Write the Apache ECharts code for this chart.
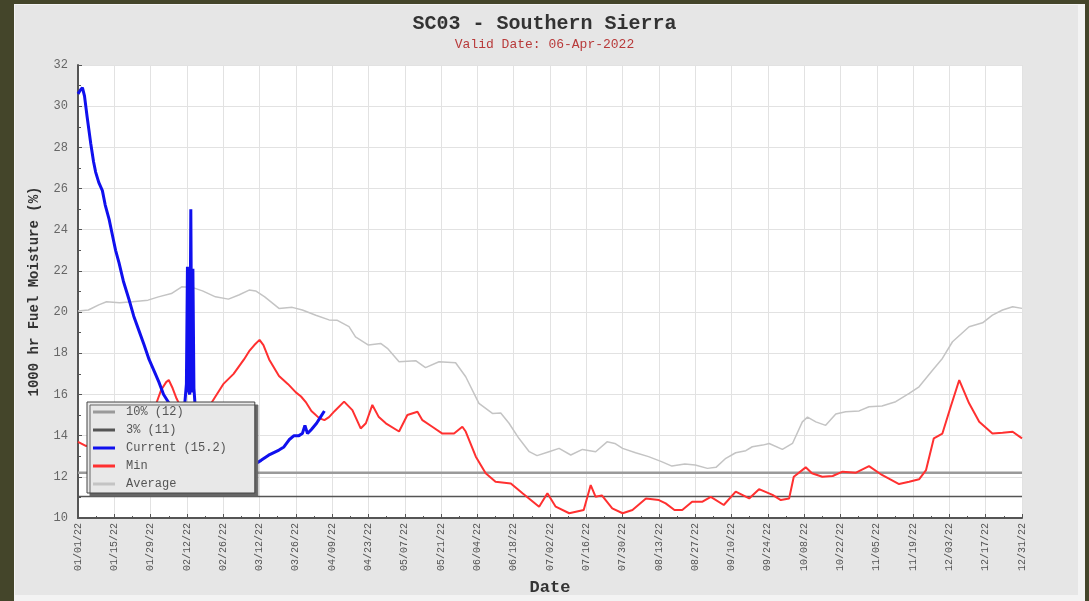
<!DOCTYPE html>
<html>
<head>
<meta charset="utf-8">
<script src="https://cdn.jsdelivr.net/npm/echarts@6/dist/echarts.min.js"></script>
<style>
  html, body { margin:0; padding:0; width:1089px; height:601px; background:#44452a; overflow:hidden; }
  #outer { position:absolute; left:14px; top:4px; width:1071px; height:597px; background:#f3f3f3; }
  #panel { position:absolute; left:15px; top:5px; width:1063px; height:590px; background:#e6e6e6; }
  #chart { position:absolute; left:0; top:0; width:1089px; height:601px; }
</style>
</head>
<body>
<div id="outer"></div>
<div id="panel"></div>
<div id="chart"></div>
<script>
// Tick labels every 14 days (day index 0 = 01/01/22)
const tickLabels = ['01/01/22','01/15/22','01/29/22','02/12/22','02/26/22','03/12/22','03/26/22','04/09/22','04/23/22','05/07/22','05/21/22','06/04/22','06/18/22','07/02/22','07/16/22','07/30/22','08/13/22','08/27/22','09/10/22','09/24/22','10/08/22','10/22/22','11/05/22','11/19/22','12/03/22','12/17/22','12/31/22'];

// Threshold values
const pct10Value = 12.2;
const pct3Value = 11.05;
const thresholdDays = [0, 364];

// Current (day, value)
const currentData = [[0,30.6],[1,30.8],[1.7,30.9],[2.5,30.5],[3.5,29.5],[4.9,28.2],[6,27.3],[6.8,26.8],[8,26.3],[9.4,25.9],[10.5,25.2],[12,24.5],[13.5,23.6],[14.5,23.0],[15.8,22.4],[17.5,21.5],[19.7,20.6],[21.5,19.8],[23.5,19.1],[25.5,18.4],[27.4,17.7],[29.5,17.1],[31.2,16.6],[33,16.0],[35,15.6],[37,15.3],[39,15.2],[41,15.3],[41.8,16.5],[42.2,22.2],[42.6,16.2],[43.1,16.0],[43.5,25.0],[43.9,16.1],[44.3,22.1],[44.7,16.3],[45.2,15.4],[47,15.0],[50,14.5],[54,13.9],[58,13.4],[62,13.0],[66,12.6],[68,12.6],[70.6,12.8],[73.5,13.05],[77.5,13.3],[79.4,13.45],[81.4,13.8],[83.3,14.0],[85.2,14.0],[86.5,14.1],[87.5,14.5],[88.5,14.1],[90,14.3],[92,14.6],[93.5,14.9],[95,15.2]];

// Min (day, value)
const minData = [[0,13.7],[3,13.5],[8,13.6],[14,14.0],[20,14.5],[26,15.0],[30,15.5],[32,16.2],[34,16.6],[35,16.7],[36.5,16.3],[38,15.8],[40,15.3],[44,15.0],[48,15.2],[51,15.5],[53,15.9],[56,16.5],[60,17.0],[64,17.7],[66,18.1],[68,18.4],[70,18.65],[71.5,18.4],[73.7,17.7],[77.5,16.9],[81,16.5],[84,16.1],[86,15.9],[88,15.6],[90,15.2],[93,14.85],[95,14.75],[96.8,14.9],[99,15.2],[102.6,15.65],[105.8,15.24],[109,14.35],[111,14.6],[113.5,15.49],[116,14.9],[118.7,14.6],[123.8,14.2],[127,15.0],[130.9,15.16],[132.8,14.75],[136.6,14.43],[140.5,14.1],[145,14.1],[148.2,14.43],[149.5,14.2],[153.4,12.98],[157.2,12.17],[161,11.76],[166.9,11.68],[171.4,11.2],[177.8,10.55],[181,11.2],[184.2,10.55],[189.4,10.23],[195,10.39],[197.7,11.6],[199.6,11.03],[202,11.1],[206,10.47],[210,10.23],[213.8,10.39],[219,10.95],[224,10.87],[226.6,10.71],[230,10.39],[233,10.39],[236.8,10.79],[240.8,10.79],[244,11.03],[249,10.63],[253.6,11.28],[258.8,10.95],[262.6,11.4],[267.8,11.12],[271,10.87],[274.2,10.95],[276,12.0],[280.6,12.46],[283,12.17],[287,12.0],[291,12.04],[294.8,12.25],[300,12.2],[305,12.52],[310,12.09],[316.6,11.65],[320.5,11.76],[324.3,11.88],[327,12.33],[330,13.87],[333.3,14.1],[336.5,15.4],[339.8,16.7],[343.6,15.57],[347.5,14.67],[352.6,14.1],[356.5,14.14],[360.4,14.19],[364,13.87]];

// Average (day, value)
const averageData = [[0,20.05],[4,20.1],[8,20.35],[11,20.5],[16,20.45],[21,20.5],[27,20.58],[31,20.74],[36,20.9],[40,21.23],[44,21.2],[48,21.03],[53,20.74],[58,20.63],[62,20.83],[66,21.07],[68.5,21.03],[72,20.74],[77.5,20.18],[82.6,20.23],[86.5,20.1],[91.7,19.85],[96.8,19.62],[100,19.6],[104.5,19.29],[107,18.8],[112,18.4],[116.7,18.48],[119.3,18.24],[123.8,17.59],[130.2,17.64],[134,17.3],[139.2,17.59],[145.6,17.54],[149.5,16.86],[154.6,15.57],[159.8,15.08],[163,15.1],[166.2,14.6],[170,13.87],[174,13.22],[177,13.03],[181.6,13.22],[185.5,13.38],[190,13.06],[194.5,13.33],[199.6,13.22],[204,13.7],[207,13.62],[210,13.38],[215,13.17],[220,12.98],[225,12.74],[229,12.52],[234,12.62],[238,12.57],[242.7,12.41],[246,12.46],[249.8,12.9],[253.6,13.17],[257.5,13.27],[260,13.46],[264,13.54],[266.5,13.62],[271.6,13.33],[275.5,13.62],[279.3,14.67],[281.3,14.9],[284.5,14.67],[288.3,14.5],[292.2,15.05],[296,15.16],[301.2,15.2],[305,15.4],[310,15.44],[315.3,15.65],[320.5,16.05],[324.3,16.37],[329.5,17.18],[333.3,17.75],[337.2,18.56],[343.6,19.29],[348.8,19.48],[352.6,19.85],[356.5,20.1],[360.4,20.26],[364,20.18]];

const seriesNames = ['10% (12)', '3% (11)', 'Current (15.2)', 'Min', 'Average'];

const mono = 'Liberation Mono';
const chart = echarts.init(document.getElementById('chart'), null, {renderer:'canvas'});

function lineSeries(name, data, color, width, z) {
  return {
    name, type:'line', data, symbol:'none', z,
    lineStyle:{color, width}, itemStyle:{color},
    emphasis:{disabled:true}, animation:false
  };
}

chart.setOption({
  animation:false,
  backgroundColor:'transparent',
  title:{
    text:'SC03 - Southern Sierra',
    subtext:'Valid Date: 06-Apr-2022',
    left:'center', top:9, itemGap:4,
    textStyle:{fontFamily:mono, fontSize:20, fontWeight:'bold', color:'#333'},
    subtextStyle:{fontFamily:mono, fontSize:13, color:'#b83a3a'}
  },
  grid:{left:78, right:67, top:65, bottom:83, show:true, backgroundColor:'#ffffff', borderWidth:0},
  xAxis:{
    type:'value', min:0, max:364, interval:14,
    name:'Date', nameLocation:'middle', nameGap:56,
    nameTextStyle:{fontFamily:mono, fontWeight:'bold', fontSize:17, color:'#333'},
    axisLine:{lineStyle:{color:'#555', width:2}},
    axisTick:{inside:true, length:4, lineStyle:{color:'#555'}},
    minorTick:{show:true, splitNumber:2, length:2, lineStyle:{color:'#555'}},
    splitLine:{show:true, lineStyle:{color:'#e2e2e2', width:1}},
    axisLabel:{rotate:90, margin:5, fontFamily:mono, fontSize:10, color:'#555',
      formatter:(v)=> tickLabels[Math.round(v/14)] || ''}
  },
  yAxis:{
    type:'value', min:10, max:32, interval:2,
    name:'1000 hr Fuel Moisture (%)', nameLocation:'middle', nameGap:37,
    nameTextStyle:{fontFamily:mono, fontWeight:'bold', fontSize:14, color:'#333'},
    axisLine:{show:true, lineStyle:{color:'#555', width:2}},
    axisTick:{show:true, inside:true, length:4, lineStyle:{color:'#555'}},
    minorTick:{show:true, splitNumber:2, length:3, lineStyle:{color:'#555'}},
    splitLine:{show:true, lineStyle:{color:'#e2e2e2', width:1}},
    axisLabel:{margin:10, fontFamily:mono, fontSize:12, color:'#666'}
  },
  legend:{
    orient:'vertical', left:87, top:402, z:20,
    padding:[3, 28, 2, 6],
    itemWidth:22, itemHeight:3, itemGap:4, icon:'rect',
    backgroundColor:'#e8e8e8', borderColor:'#444', borderWidth:1,
    shadowColor:'#666', shadowOffsetX:3, shadowOffsetY:3, shadowBlur:0,
    selectedMode:false,
    textStyle:{fontFamily:mono, fontSize:12, color:'#555', lineHeight:14, padding:[0,0,0,6]},
    data:seriesNames
  },
  series:[
    lineSeries(seriesNames[4], averageData, '#c4c4c4', 1.5, 2),
    lineSeries(seriesNames[0], thresholdDays.map(d=>[d, pct10Value]), '#9a9a9a', 2.5, 3),
    lineSeries(seriesNames[1], thresholdDays.map(d=>[d, pct3Value]), '#555555', 1.5, 3),
    lineSeries(seriesNames[3], minData, '#ff3030', 2, 4),
    lineSeries(seriesNames[2], currentData, '#1010ee', 3, 5)
  ]
});
</script>
</body>
</html>
